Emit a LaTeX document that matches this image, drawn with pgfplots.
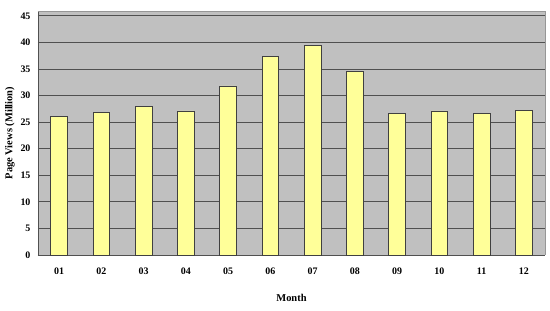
\documentclass[border=0pt]{standalone}
\usepackage{pgfplots}
\pgfplotsset{compat=1.18}
\usepackage{fontspec}
\setmainfont{Liberation Serif}
\definecolor{plotbg}{HTML}{C0C0C0}
\definecolor{barfill}{HTML}{FFFF99}
\definecolor{gridc}{HTML}{505050}
\begin{document}
\begin{tikzpicture}[x=1bp,y=1bp]
\useasboundingbox (-38bp,-56bp) rectangle (512bp,255bp);
\begin{axis}[
  at={(0,0)}, anchor=south west,
  scale only axis, width=507bp, height=244bp,
  xmin=0.5, xmax=12.5, ymin=0, ymax=45.9,
  axis background/.style={fill=plotbg},
  axis line style={draw=gridc, line width=0.8pt},
  axis x line*=bottom, axis y line*=left,
  ytick={0,5,...,45},
  ymajorgrids, grid style={draw=gridc, line width=0.8pt},
  xtick={1,...,12},
  xticklabels={01,02,03,04,05,06,07,08,09,10,11,12},
  major x tick style={draw=none},
  extra x ticks={1.5,2.5,...,11.5},
  extra x tick labels={},
  extra x tick style={major tick length=3bp, tick style={draw=gridc}, grid=none},
  y tick style={draw=none},
  tick label style={font=\bfseries\fontsize{10}{11}\selectfont},
  /pgf/number format/assume math mode=true,
  xticklabel style={yshift=-9bp},
  yticklabel style={xshift=-4bp},
  xlabel={\bfseries Month},
  ylabel={\bfseries Page Views (Million)},
  label style={font=\bfseries\fontsize{10.5}{12}\selectfont},
  xlabel style={yshift=-13bp},
  ylabel style={yshift=-1bp},
  clip=false,
]
\addplot[ybar, bar width=16.7bp, fill=barfill, draw=black!75, line width=0.7pt]
coordinates {
(1,26.1) (2,26.9) (3,28.0) (4,27.1) (5,31.8) (6,37.4)
(7,39.5) (8,34.6) (9,26.6) (10,27.1) (11,26.6) (12,27.2)
};
\draw[gridc!60, line width=0.8pt] (rel axis cs:0,1) -- (rel axis cs:1,1) -- (rel axis cs:1,0);
\end{axis}
\end{tikzpicture}
\end{document}
